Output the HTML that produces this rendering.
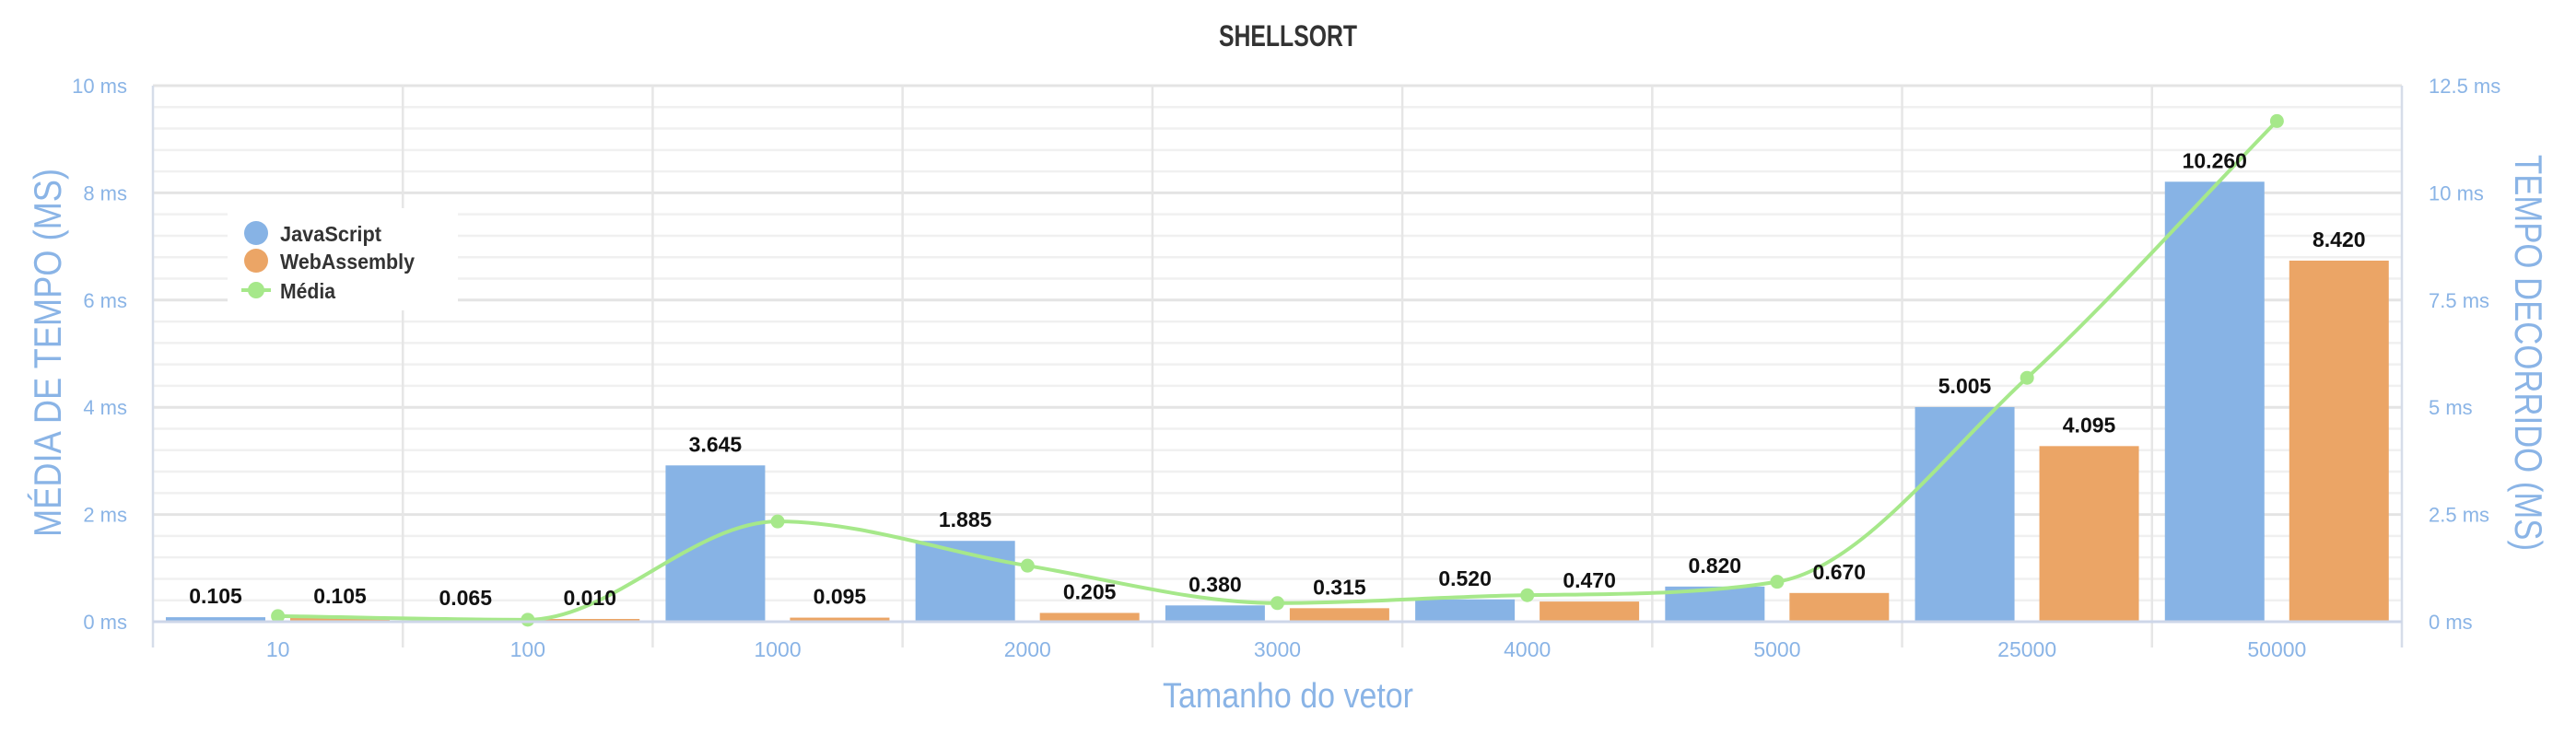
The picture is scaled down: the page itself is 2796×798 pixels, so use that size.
<!DOCTYPE html>
<html><head><meta charset="utf-8"><style>
html,body{margin:0;padding:0;background:#fff;}
svg{display:block;font-family:"Liberation Sans",sans-serif;}
</style></head><body>
<svg id="chart" width="2796" height="798" viewBox="0 0 2796 798" xmlns="http://www.w3.org/2000/svg">
<text x="1398" y="50" text-anchor="middle" font-size="32" font-weight="bold" fill="#333" textLength="150" lengthAdjust="spacingAndGlyphs">SHELLSORT</text>
<g id="grid"></g><g id="bars"></g><g id="line"></g><g id="labels"></g><g id="axes"></g>
<text transform="translate(66,383) rotate(-90)" text-anchor="middle" font-size="42" fill="#8ab4e6" textLength="400" lengthAdjust="spacingAndGlyphs">MÉDIA DE TEMPO (MS)</text>
<text transform="translate(2730,383) rotate(90)" text-anchor="middle" font-size="42" fill="#8ab4e6" textLength="430" lengthAdjust="spacingAndGlyphs">TEMPO DECORRIDO (MS)</text>
<text x="1398" y="768" text-anchor="middle" font-size="38" fill="#8ab4e6" textLength="272" lengthAdjust="spacingAndGlyphs">Tamanho do vetor</text>
<g>
<rect x="247" y="226" width="250" height="111" fill="#fff"/>
<g><circle cx="278" cy="253" r="13" fill="#87b3e5"/><text x="304" y="262" font-size="23" font-weight="bold" fill="#333" textLength="110" lengthAdjust="spacingAndGlyphs">JavaScript</text></g>
<g><circle cx="278" cy="283" r="13" fill="#eba566"/><text x="304" y="292" font-size="23" font-weight="bold" fill="#333" textLength="146" lengthAdjust="spacingAndGlyphs">WebAssembly</text></g>
<g><line x1="262" y1="315" x2="294" y2="315" stroke="#a6e88a" stroke-width="4"/><circle cx="278" cy="315" r="9" fill="#a6e88a"/><text x="304" y="324" font-size="23" font-weight="bold" fill="#333" textLength="60" lengthAdjust="spacingAndGlyphs">Média</text></g>
</g>
</svg>
<script>
const categories = ["10","100","1000","2000","3000","4000","5000","25000","50000"];
const jsValues = [0.105,0.065,3.645,1.885,0.380,0.520,0.820,5.005,10.260];
const wasmValues = [0.105,0.010,0.095,0.205,0.315,0.470,0.670,4.095,8.420];
const mediaValues = [0.105,0.0375,1.87,1.045,0.3475,0.495,0.745,4.55,9.34];
const leftTicks = [0,2,4,6,8,10];
const rightTicks = [0,2.5,5,7.5,10,12.5];

const NS="http://www.w3.org/2000/svg";
const L=166,R=2607,T=93,B=675;
const cw=(R-L)/categories.length;
const yLeft=v=>B-(v/10)*(B-T);
const yRight=v=>B-(v/12.5)*(B-T);
const xCat=i=>L+i*cw;
function mk(tag,attrs,parent){const e=document.createElementNS(NS,tag);for(const k in attrs)e.setAttribute(k,attrs[k]);document.getElementById(parent).appendChild(e);return e;}

for(let k=0;k<=25;k++){const v=k*0.4;const y=yLeft(v);const major=(k%5===0);
 const g=mk('line',{x1:L,x2:R,y1:y,y2:y,stroke:major?'#e4e4e4':'#f0f0f0','stroke-width':major?3:2.5},'grid');
 
 }
for(let i=0;i<=categories.length;i++){const x=xCat(i);
 const g=mk('line',{x1:x,x2:x,y1:T,y2:B+28,stroke:i===0||i===categories.length?'#d6dde9':'#e6e6e6','stroke-width':2.5},'grid');
 
 }
const bw=108;
categories.forEach((c,i)=>{
 const x0=xCat(i);
 const vals=[[jsValues[i],14,'#87b3e5','js'],[wasmValues[i],149,'#eba566','wasm']];
 vals.forEach(([v,off,col,nm])=>{
  const y=yRight(v);
  const r=mk('rect',{x:x0+off,y:Math.min(y,B-3),width:bw,height:Math.max(B-y,3),fill:col},'bars');
  
  
  const t=mk('text',{x:x0+off+bw/2,y:Math.min(y,B-3)-15,'text-anchor':'middle','font-size':23,'font-weight':'bold',fill:'#111'},'labels');
  t.textContent=v.toFixed(3);
  
  
 });
 const xl=mk('text',{x:x0+cw/2,y:713,'text-anchor':'middle','font-size':23,fill:'#8ab4e6'},'axes');
 xl.textContent=c;
 
 
});
const ax=mk('line',{x1:L,x2:R,y1:B,y2:B,stroke:'#cdd6e8','stroke-width':3},'axes');


leftTicks.forEach(v=>{const t=mk('text',{x:138,y:yLeft(v)+8,'text-anchor':'end','font-size':22,fill:'#8ab4e6'},'axes');t.textContent=v+' ms';
 
 });
rightTicks.forEach(v=>{const t=mk('text',{x:2636,y:yRight(v)+8,'text-anchor':'start','font-size':22,fill:'#8ab4e6'},'axes');t.textContent=v+' ms';
 
 });
const pts=mediaValues.map((v,i)=>[xCat(i)+cw/2,yLeft(v)]);
const n=pts.length,d=[],m=[];
for(let i=0;i<n-1;i++)d.push((pts[i+1][1]-pts[i][1])/(pts[i+1][0]-pts[i][0]));
for(let i=0;i<n;i++){if(i===0)m.push(d[0]);else if(i===n-1)m.push(d[n-2]);else m.push(d[i-1]*d[i]<=0?0:(d[i-1]+d[i])/2);}
for(let i=0;i<n-1;i++){if(d[i]===0){m[i]=m[i+1]=0;continue;}const a=m[i]/d[i],b=m[i+1]/d[i],s=a*a+b*b;if(s>9){const t=3/Math.sqrt(s);m[i]=t*a*d[i];m[i+1]=t*b*d[i];}}
let p='M'+pts[0][0]+','+pts[0][1];
for(let i=0;i<n-1;i++){const h=(pts[i+1][0]-pts[i][0])/3;p+=` C${pts[i][0]+h},${pts[i][1]+m[i]*h} ${pts[i+1][0]-h},${pts[i+1][1]-m[i+1]*h} ${pts[i+1][0]},${pts[i+1][1]}`;}
const ln=mk('path',{d:p,fill:'none',stroke:'#a6e88a','stroke-width':4},'line');


pts.forEach((q,i)=>{const c=mk('circle',{cx:q[0],cy:q[1],r:7.5,fill:'#a6e88a'},'line');
 
 });
</script>
</body></html>
